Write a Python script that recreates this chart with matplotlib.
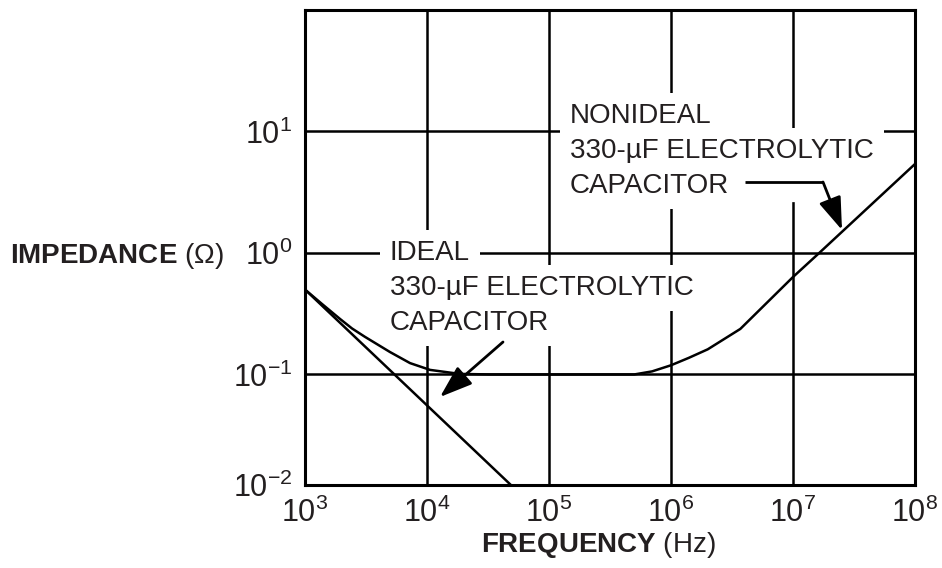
import matplotlib
matplotlib.use("Agg")
import matplotlib.pyplot as plt
import matplotlib.patheffects as pe

plt.rcParams['font.family'] = ['Liberation Sans', 'DejaVu Sans']
plt.rcParams['mathtext.fontset'] = 'custom'
plt.rcParams['mathtext.rm'] = 'Liberation Sans'
plt.rcParams['mathtext.it'] = 'Liberation Sans:italic'
plt.rcParams['mathtext.bf'] = 'Liberation Sans:bold'

INK = '#231f20'

# values
freq_ideal = [1e3, 5e4]
z_ideal = [0.5, 0.012]

freq_nonideal = [1e3, 1.38e3, 1.94e3, 2.43e3, 3.1e3, 4.97e3, 7.26e3, 1.06e4,
                 1.86e4, 3.3e4, 1e5, 5e5, 7e5, 1e6, 1.4e6, 2e6, 3.7e6, 1e7,
                 1.64e7, 1e8]
z_nonideal = [0.5, 0.38, 0.286, 0.239, 0.204, 0.153, 0.124, 0.109,
              0.101, 0.1, 0.1, 0.1, 0.106, 0.119, 0.137, 0.161, 0.237, 0.634,
              1.0, 5.4]

x_ticks = [1e3, 1e4, 1e5, 1e6, 1e7, 1e8]
x_labels = [r'$10^{3}$', r'$10^{4}$', r'$10^{5}$', r'$10^{6}$', r'$10^{7}$', r'$10^{8}$']
y_bottom = 10 ** -1.91
y_top = 100
y_ticks = [y_bottom, 1e-1, 1e0, 1e1]
y_labels = [r'$10^{-2}$', r'$10^{-1}$', r'$10^{0}$', r'$10^{1}$']

ideal_text = ['IDEAL', '330-µF ELECTROLYTIC', 'CAPACITOR']
nonideal_text = ['NONIDEAL', '330-µF ELECTROLYTIC', 'CAPACITOR']

W, H = 942, 568
AX_L, AX_R, AX_T, AX_B = 305, 915, 10, 485


def ax_pt(x, y):
    """Picture pixel -> axes fraction."""
    return (x - AX_L) / (AX_R - AX_L), (AX_B - y) / (AX_B - AX_T)


fig = plt.figure(figsize=(W / 100, H / 100), dpi=100)
ax = fig.add_axes([AX_L / W, (H - AX_B) / H, (AX_R - AX_L) / W, (AX_B - AX_T) / H])
ax.set_xscale('log')
ax.set_yscale('log')
ax.set_xlim(1e3, 1e8)
ax.set_ylim(y_bottom, y_top)
ax.set_xticks(x_ticks)
ax.set_xticklabels(x_labels)
ax.set_yticks(y_ticks)
ax.set_yticklabels(y_labels)
ax.minorticks_off()
ax.tick_params(length=0, labelsize=22, pad=9, labelcolor=INK)
ax.grid(True, which='major', color='black', lw=1.8)
for sp in ax.spines.values():
    sp.set_linewidth(2.2)
    sp.set_zorder(6)

# curves sit above the white label boxes, grid sits below them
ax.plot(freq_ideal, z_ideal, color='black', lw=1.8, zorder=6)
ax.plot(freq_nonideal, z_nonideal, color='black', lw=1.8, zorder=6)

box = dict(facecolor='white', edgecolor='none', pad=7)
for i, s in enumerate(ideal_text):
    ax.text(*ax_pt(390, 260 + 35 * i), s, transform=ax.transAxes, fontsize=20,
            color=INK, va='baseline', ha='left', bbox=box, zorder=5)
for i, s in enumerate(nonideal_text):
    ax.text(*ax_pt(570, 123 + 35 * i), s, transform=ax.transAxes, fontsize=20,
            color=INK, va='baseline', ha='left', bbox=box, zorder=5)

arrow = dict(arrowstyle='-|>,head_length=1.0,head_width=0.35', mutation_scale=20,
             lw=2, color='black', shrinkA=0, shrinkB=0)
ax.annotate('', xy=ax_pt(440, 397), xytext=ax_pt(503, 342),
            xycoords='axes fraction', textcoords='axes fraction',
            arrowprops=arrow, zorder=7)

# leader from the NONIDEAL label, with a white halo cutting the grid
x0, y0 = ax_pt(745, 182)
x1, _ = ax_pt(823, 182)
ax.plot([x0, x1], [y0, y0], transform=ax.transAxes, color='black', lw=2,
        solid_capstyle='butt', clip_on=False, zorder=5,
        path_effects=[pe.Stroke(linewidth=29, foreground='white'), pe.Normal()])
ax.annotate('', xy=ax_pt(842, 230), xytext=(x1, y0),
            xycoords='axes fraction', textcoords='axes fraction',
            arrowprops=arrow, zorder=7)

fig.text(10 / W, (H - 263) / H, r'$\mathbf{IMPEDANCE}$ (Ω)', fontsize=20,
         color=INK, ha='left', va='baseline')
fig.text(598 / W, (H - 552) / H, r'$\mathbf{FREQUENCY}$ (Hz)', fontsize=20,
         color=INK, ha='center', va='baseline')

fig.savefig('out.png', dpi=100)
